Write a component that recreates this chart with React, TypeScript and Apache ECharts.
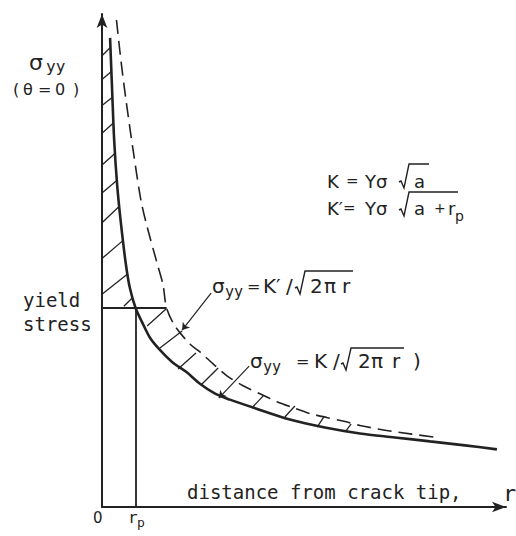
import { useEffect, useRef } from "react";
import * as echarts from "echarts";

// Distance from the crack tip, in units of the plastic zone size r_p
// and stress in units of the yield stress.
const solidR = [0.24, 0.3, 0.36, 0.45, 0.56, 0.71, 0.83, 1.0, 1.19, 1.43, 1.72, 2.08, 2.5, 2.91, 3.36, 3.8, 4.49, 5.58, 6.62, 7.66, 8.7, 9.74, 10.78, 11.73];
const solidS = [2.36, 2.1, 1.85, 1.62, 1.43, 1.22, 1.1, 1.0, 0.93, 0.85, 0.79, 0.73, 0.68, 0.62, 0.57, 0.54, 0.5, 0.44, 0.4, 0.37, 0.35, 0.33, 0.31, 0.29];

// Corrected (K') distribution, drawn dashed
const dashR = [0.43, 0.56, 0.71, 0.92, 1.16, 1.34, 1.63, 1.81, 1.92, 2.17, 2.61, 2.91, 3.3, 3.71, 4.19, 4.69, 5.2, 5.67, 6.18, 6.68, 7.22, 7.66, 8.64, 9.95];
const dashS = [2.45, 2.25, 2.05, 1.8, 1.54, 1.41, 1.23, 1.12, 1.0, 0.91, 0.82, 0.78, 0.72, 0.66, 0.61, 0.57, 0.53, 0.5, 0.47, 0.45, 0.43, 0.41, 0.38, 0.35];

const yieldStress = 1;
const rp = 1;
const yieldLineEnd = 1.92;

// Hatching inside the elastic peak above yield: [r1, s1, r2, s2]
const hatchPeak = [
  [0, 2.27, 0.24, 2.31],
  [0, 2.15, 0.27, 2.19],
  [0, 2.02, 0.3, 2.06],
  [0, 1.88, 0.33, 1.93],
  [0, 1.72, 0.39, 1.78],
  [0, 1.58, 0.42, 1.64],
  [0, 1.43, 0.5, 1.51],
  [0, 1.25, 0.62, 1.34],
  [0, 1.07, 0.74, 1.17],
  [0.65, 1.01, 0.89, 1.05],
];

// Hatching between the two distributions: [r1, s1, r2, s2]
const hatchBand = [
  [1.34, 0.91, 1.9, 0.996],
  [1.72, 0.8, 2.38, 0.885],
  [2.26, 0.694, 2.79, 0.775],
  [2.94, 0.614, 3.45, 0.699],
  [4.45, 0.498, 4.81, 0.563],
  [5.43, 0.453, 5.73, 0.508],
  [6.39, 0.402, 6.59, 0.453],
  [7.22, 0.377, 7.4, 0.418],
];

// Leader lines from the formula labels to the curves: [r1, s1, r2, s2]
const leaders = [
  [3.24, 1.076, 2.38, 0.89],
  [4.37, 0.709, 3.47, 0.548],
];

const INK = "#222";
const SANS = "DejaVu Sans";
const MONO = "DejaVu Sans Mono";

type Piece = [string, number, number, number, string?];

function txt([text, x, y, size, family]: Piece) {
  return {
    type: "text",
    x,
    y,
    silent: true,
    style: {
      text,
      fontSize: size,
      fontFamily: family || SANS,
      fill: INK,
      align: "left",
      verticalAlign: "middle",
    },
  };
}

// Radical sign with its vinculum: x, top of bar, foot, end of bar
function radical(x: number, yt: number, yb: number, xEnd: number) {
  return {
    type: "polyline",
    silent: true,
    shape: {
      points: [
        [x - 2, yb - 6],
        [x, yb - 7],
        [x + 3, yb],
        [x + 8, yt],
        [xEnd, yt],
      ],
    },
    style: { stroke: INK, lineWidth: 1.4, fill: "none" },
  };
}

const labelPieces: Piece[] = [
  // ordinate label
  ["σ", 29, 62.5, 22],
  ["yy", 46, 66, 16, MONO],
  ["(", 13, 89.5, 16],
  ["θ", 23, 89.5, 16],
  ["=", 38, 89.5, 16],
  ["0", 55, 89.5, 16],
  [")", 73, 89.5, 16],
  ["yield", 23, 300, 19, MONO],
  ["stress", 23, 324, 19, MONO],
  // abscissa
  ["distance from crack tip,", 187, 492, 19, MONO],
  ["r", 503, 493, 22, MONO],
  ["0", 93, 517.5, 15],
  ["r", 128, 517, 16, MONO],
  ["p", 137, 522, 13, MONO],
  // K = Yσ√a
  ["K", 327, 181, 18],
  ["=", 346, 181, 15],
  ["Yσ", 365, 181, 18],
  ["a", 414, 181, 18],
  // K' = Yσ√(a + rp)
  ["K′", 327, 208, 18],
  ["=", 343, 208, 15],
  ["Yσ", 365, 208, 18],
  ["a", 414, 208, 18],
  ["+", 434, 208, 14],
  ["r", 448, 208, 18],
  ["p", 455, 216, 14],
  // σyy = K'/√(2πr)
  ["σ", 212, 286, 20],
  ["yy", 225, 292, 15, MONO],
  ["=", 247, 286, 16],
  ["K′", 263, 286, 20],
  ["/", 286, 286, 20],
  ["2", 310, 286, 20],
  ["π", 324, 286, 20],
  ["r", 342, 286, 20],
  // σyy = K/√(2πr) )
  ["σ", 250, 361, 20],
  ["yy", 263, 367, 15, MONO],
  ["=", 296, 361, 16],
  ["K", 314, 361, 20],
  ["/", 333, 361, 20],
  ["2", 358, 361, 20],
  ["π", 371, 361, 20],
  ["r", 392, 361, 20],
  [")", 413, 361, 20],
];

const segs = (rows: number[][]) =>
  rows.map((s) => ({ coords: [[s[0], s[1]], [s[2], s[3]]] }));

export default function App() {
  const ref = useRef<HTMLDivElement>(null);

  useEffect(() => {
    const chart = echarts.init(ref.current!, null, { renderer: "svg" });
    const axisLine = {
      show: true,
      symbol: ["none", "arrow"],
      symbolSize: [8, 14],
      lineStyle: { color: INK, width: 2 },
    };
    const bare = {
      axisLine,
      axisTick: { show: false },
      axisLabel: { show: false },
      splitLine: { show: false },
    };
    chart.setOption({
      animation: false,
      backgroundColor: "#fff",
      grid: { left: 102, right: 10, top: 14, bottom: 29 },
      xAxis: { type: "value", min: 0, max: 12, ...bare },
      yAxis: { type: "value", min: 0, max: 2.48, ...bare },
      series: [
        {
          type: "line",
          data: solidR.map((r, i) => [r, solidS[i]]),
          symbol: "none",
          smooth: 0.3,
          silent: true,
          lineStyle: { color: INK, width: 2.6 },
        },
        {
          type: "line",
          data: dashR.map((r, i) => [r, dashS[i]]),
          symbol: "none",
          smooth: 0.3,
          silent: true,
          lineStyle: { color: INK, width: 1.6, type: [14, 7] },
        },
        {
          type: "lines",
          coordinateSystem: "cartesian2d",
          silent: true,
          data: segs([...hatchPeak, ...hatchBand]),
          lineStyle: { color: INK, width: 1.3, opacity: 1, curveness: 0 },
        },
        {
          type: "lines",
          coordinateSystem: "cartesian2d",
          silent: true,
          data: segs([
            [0, yieldStress, yieldLineEnd, yieldStress],
            [rp, 0, rp, yieldStress],
          ]),
          lineStyle: { color: INK, width: 1.8, opacity: 1, curveness: 0 },
        },
        {
          type: "lines",
          coordinateSystem: "cartesian2d",
          silent: true,
          symbol: ["none", "arrow"],
          symbolSize: 7,
          data: segs(leaders),
          lineStyle: { color: INK, width: 1.2, opacity: 1, curveness: 0 },
        },
      ],
      graphic: [
        ...labelPieces.map(txt),
        radical(401, 164, 188, 429),
        radical(401, 192, 216, 458),
        radical(297, 271, 294, 353),
        radical(343, 348, 370, 404),
      ],
    });
    return () => chart.dispose();
  }, []);

  return (
    <div
      ref={ref}
      style={{ position: "fixed", left: 0, top: 0, width: 516, height: 536, background: "#fff" }}
    />
  );
}
